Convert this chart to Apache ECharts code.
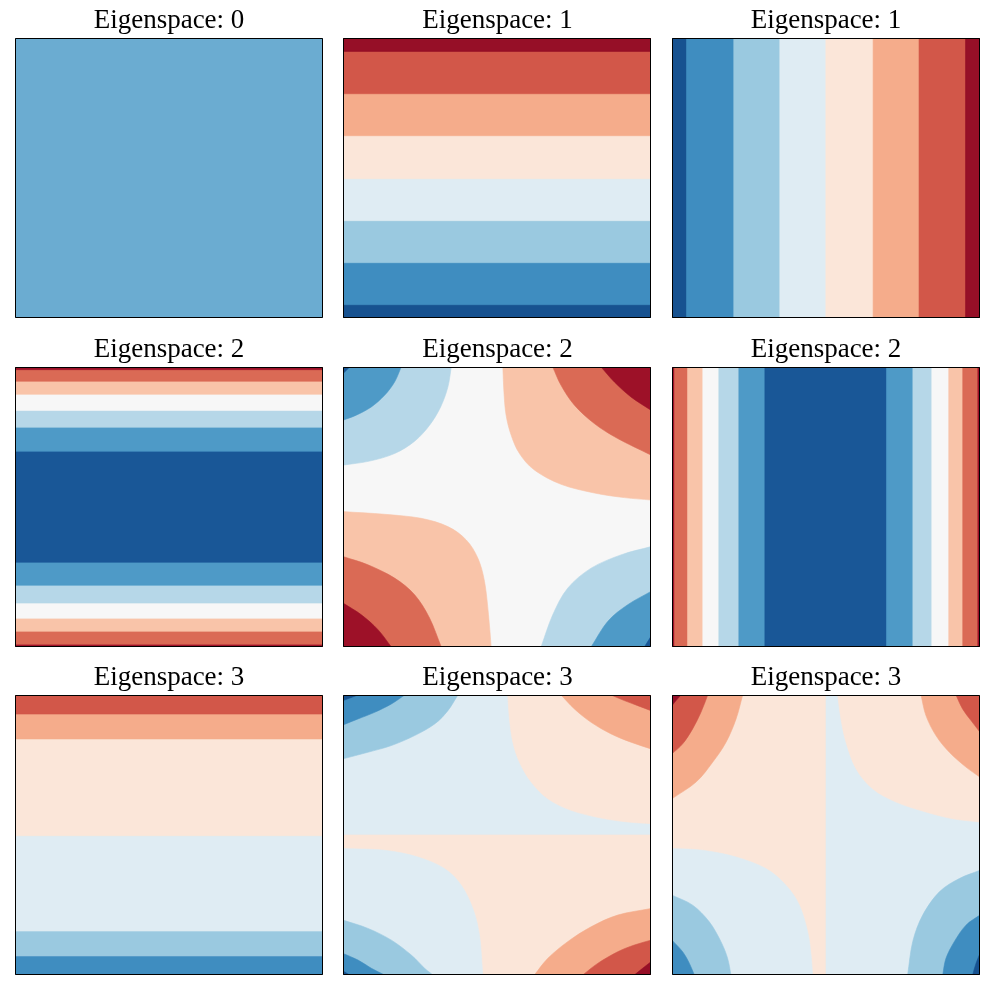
<!DOCTYPE html>
<html><head><meta charset="utf-8">
<script src="https://cdn.jsdelivr.net/npm/echarts@6/dist/echarts.min.js"></script>
<style>html,body{margin:0;padding:0;background:#fff}#c{width:990px;height:990px}</style>
</head><body><div id="c"></div>
<script>
// ---------------- data ----------------
const titles = ['Eigenspace: 0','Eigenspace: 1','Eigenspace: 1',
                'Eigenspace: 2','Eigenspace: 2','Eigenspace: 2',
                'Eigenspace: 3','Eigenspace: 3','Eigenspace: 3'];

// number of filled-contour levels (bands) used by each panel's colormap
const bandCounts = [2, 8, 8, 7, 7, 7, 8, 8, 8];

// panel 1: constant field (single band)
const p1Bounds = [];
const p1Levels = [0];
// panel 2: horizontal bands, boundaries in y (bottom -> top)
const p2Bounds = [-0.905, -0.605, -0.305, -0.005, 0.302, 0.602, 0.904];
const p2Levels = [0, 1, 2, 3, 4, 5, 6, 7];
// panel 3: vertical bands, boundaries in x (left -> right)
const p3Bounds = [-0.906, -0.599, -0.300, -0.001, 0.306, 0.604, 0.906];
const p3Levels = [0, 1, 2, 3, 4, 5, 6, 7];
// panel 4: horizontal bands
const p4Bounds = [-0.981, -0.888, -0.795, -0.686, -0.559, -0.395, 0.398, 0.569, 0.689, 0.805, 0.898, 0.981];
const p4Levels = [6, 5, 4, 3, 2, 1, 0, 1, 2, 3, 4, 5, 6];
// panel 6: vertical bands
const p6Bounds = [-0.984, -0.899, -0.800, -0.696, -0.566, -0.397, 0.393, 0.564, 0.687, 0.797, 0.888, 0.986];
const p6Levels = [6, 5, 4, 3, 2, 1, 0, 1, 2, 3, 4, 5, 6];
// panel 7: horizontal bands
const p7Bounds = [-0.864, -0.686, -0.005, 0.686, 0.864];
const p7Levels = [1, 2, 3, 4, 5, 6];

// panel 5: contour regions (level index, outline: contour points then the enclosed corner)
const p5Levels = [3, 2, 1, 0, 4, 5, 6, 4, 5, 6, 2, 1, 0];
const p5Shapes = [
  [[-1,-1],[1,-1],[1,1],[-1,1]],
  [[-0.297,1],[-0.319,0.857],[-0.366,0.715],[-0.438,0.584],[-0.535,0.470],[-0.665,0.382],[-0.827,0.328],[-1,0.299],[-1,1]],
  [[-0.622,1],[-0.665,0.893],[-0.730,0.798],[-0.816,0.715],[-0.914,0.656],[-1,0.620],[-1,1]],
  [[-0.957,1],[-1,0.952],[-1,1]],
  [[0.038,1],[0.045,0.822],[0.059,0.656],[0.092,0.513],[0.146,0.382],[0.243,0.264],[0.416,0.162],[0.632,0.100],[0.827,0.067],[1,0.050],[1,1]],
  [[0.362,1],[0.416,0.869],[0.503,0.727],[0.632,0.596],[0.784,0.489],[1,0.371],[1,1]],
  [[0.676,1],[0.762,0.893],[0.870,0.786],[1,0.691],[1,1]],
  [[-1,-0.033],[-0.730,-0.052],[-0.492,-0.081],[-0.319,-0.140],[-0.200,-0.235],[-0.124,-0.366],[-0.081,-0.532],[-0.055,-0.770],[-0.038,-1],[-1,-1]],
  [[-1,-0.354],[-0.838,-0.413],[-0.665,-0.508],[-0.535,-0.627],[-0.438,-0.793],[-0.362,-1],[-1,-1]],
  [[-1,-0.686],[-0.881,-0.770],[-0.773,-0.876],[-0.686,-1],[-1,-1]],
  [[1,-0.283],[0.805,-0.342],[0.611,-0.437],[0.459,-0.580],[0.362,-0.770],[0.286,-1],[1,-1]],
  [[1,-0.603],[0.849,-0.698],[0.719,-0.817],[0.611,-1],[1,-1]],
  [[1,-0.924],[0.957,-1],[1,-1]]
];

// panel 8
const p8Levels = [3, 4, 4, 5, 6, 2, 1, 0, 3, 2, 1, 0, 5, 6, 7];
const p8Shapes = [
  [[-1,0],[1,0],[1,1],[-1,1]],
  [[-1,-1],[1,-1],[1,0],[-1,0]],
  [[0.070,1],[0.081,0.829],[0.103,0.663],[0.146,0.520],[0.222,0.378],[0.330,0.259],[0.481,0.176],[0.676,0.121],[0.849,0.093],[1,0.081],[1,1]],
  [[0.416,1],[0.503,0.900],[0.611,0.805],[0.741,0.722],[0.870,0.663],[1,0.615],[1,1]],
  [[0.741,1],[0.827,0.960],[0.914,0.924],[1,0.888],[1,1]],
  [[-0.254,1],[-0.319,0.888],[-0.405,0.793],[-0.535,0.710],[-0.686,0.639],[-0.838,0.591],[-1,0.544],[-1,1]],
  [[-0.600,1],[-0.686,0.936],[-0.795,0.876],[-0.903,0.829],[-1,0.786],[-1,1]],
  [[-0.903,1],[-1,0.960],[-1,1]],
  [[-1,-0.097],[-0.730,-0.109],[-0.514,-0.157],[-0.341,-0.240],[-0.232,-0.359],[-0.157,-0.525],[-0.114,-0.715],[-0.092,-1],[-1,-1]],
  [[-1,-0.608],[-0.838,-0.667],[-0.686,-0.751],[-0.557,-0.857],[-0.470,-0.952],[-0.416,-1],[-1,-1]],
  [[-1,-0.846],[-0.903,-0.893],[-0.816,-0.952],[-0.730,-1],[-1,-1]],
  [[-1,-0.971],[-0.957,-1],[-1,-1]],
  [[0.243,-1],[0.330,-0.881],[0.459,-0.762],[0.611,-0.656],[0.784,-0.572],[1,-0.525],[1,-1]],
  [[0.557,-1],[0.654,-0.917],[0.784,-0.834],[0.892,-0.786],[1,-0.751],[1,-1]],
  [[0.892,-1],[0.946,-0.952],[1,-0.905],[1,-1]]
];

// panel 9
const p9Levels = [4, 3, 4, 5, 6, 5, 6, 7, 3, 2, 1, 2, 1, 0];
const p9Shapes = [
  [[-1,-1],[0,-1],[0,1],[-1,1]],
  [[0,-1],[1,-1],[1,1],[0,1]],
  [[0.076,1],[0.097,0.829],[0.130,0.663],[0.195,0.473],[0.303,0.330],[0.455,0.235],[0.649,0.164],[0.823,0.116],[1,0.093],[1,1]],
  [[0.617,1],[0.649,0.853],[0.714,0.710],[0.801,0.591],[0.909,0.485],[1,0.413],[1,1]],
  [[0.844,1],[0.887,0.900],[0.942,0.817],[1,0.734],[1,1]],
  [[-0.541,1],[-0.584,0.829],[-0.649,0.663],[-0.736,0.520],[-0.844,0.378],[-1,0.259],[-1,1]],
  [[-0.768,1],[-0.812,0.876],[-0.866,0.758],[-0.931,0.651],[-1,0.580],[-1,1]],
  [[-0.942,1],[-0.974,0.960],[-1,0.924],[-1,1]],
  [[-1,-0.097],[-0.801,-0.109],[-0.584,-0.157],[-0.390,-0.240],[-0.260,-0.359],[-0.173,-0.501],[-0.119,-0.691],[-0.097,-0.857],[-0.087,-1],[-1,-1]],
  [[-1,-0.430],[-0.866,-0.501],[-0.758,-0.620],[-0.682,-0.762],[-0.639,-0.881],[-0.617,-1],[-1,-1]],
  [[-1,-0.751],[-0.931,-0.834],[-0.887,-0.917],[-0.855,-1],[-1,-1]],
  [[1,-0.252],[0.866,-0.311],[0.736,-0.406],[0.628,-0.572],[0.563,-0.762],[0.530,-1],[1,-1]],
  [[1,-0.572],[0.909,-0.644],[0.833,-0.762],[0.779,-0.881],[0.758,-1],[1,-1]],
  [[1,-0.846],[0.974,-0.917],[0.952,-1],[1,-1]]
];

// ---------------- styling / layout ----------------
const RDBU = ['#67001f','#b2182b','#d6604d','#f4a582','#fddbc7','#f7f7f7','#d1e5f0','#92c5de','#4393c3','#2166ac','#053061'];
function hex2rgb(h){ return [parseInt(h.substr(1,2),16), parseInt(h.substr(3,2),16), parseInt(h.substr(5,2),16)]; }
function rdbuR(t){ // reversed RdBu: 0 -> blue, 1 -> red
  const s = (1 - t) * 10; const i = Math.min(9, Math.floor(s)); const f = s - i;
  const a = hex2rgb(RDBU[i]), b = hex2rgb(RDBU[i + 1]);
  return 'rgb(' + a.map((v, k) => Math.round(v + (b[k] - v) * f)).join(',') + ')';
}
function levelColor(n, idx){ return rdbuR((idx + 0.5) / n); }

const colLeft = [15, 343, 672], rowTop = [38, 367, 695], panelW = 308, panelH = 280;
const colCenter = [169, 497.5, 826], titleY = [21, 350, 678];

function bandLayers(bounds, levels, n, vertical){
  return levels.map((lv, i) => {
    const lo = i === 0 ? -1 : bounds[i - 1];
    const pts = vertical ? [[lo,-1],[1,-1],[1,1],[lo,1]] : [[-1,lo],[1,lo],[1,1],[-1,1]];
    return {c: levelColor(n, lv), pts: pts, curve: false};
  });
}
function isRect(pts){ return pts.length === 4 && pts.every(p => p.every(v => v === 0 || Math.abs(v) === 1)); }
function shapeLayers(shapes, levels, n){
  return shapes.map((pts, i) => ({c: levelColor(n, levels[i]), pts: pts, curve: !isRect(pts)}));
}

// smooth outline through the contour points (Catmull-Rom), closed via the corner point
function smoothPath(px){
  const curve = px.slice(0, -1), corner = px[px.length - 1];
  const n = curve.length;
  const P = i => i < 0 ? [2 * curve[0][0] - curve[1][0], 2 * curve[0][1] - curve[1][1]]
                : i >= n ? [2 * curve[n - 1][0] - curve[n - 2][0], 2 * curve[n - 1][1] - curve[n - 2][1]]
                : curve[i];
  let d = 'M' + curve[0][0].toFixed(2) + ' ' + curve[0][1].toFixed(2);
  for (let i = 0; i < n - 1; i++) {
    const p0 = P(i - 1), p1 = P(i), p2 = P(i + 1), p3 = P(i + 2);
    const c1 = [p1[0] + (p2[0] - p0[0]) / 6, p1[1] + (p2[1] - p0[1]) / 6];
    const c2 = [p2[0] - (p3[0] - p1[0]) / 6, p2[1] - (p3[1] - p1[1]) / 6];
    d += 'C' + c1.map(v => v.toFixed(2)).join(' ') + ' ' + c2.map(v => v.toFixed(2)).join(' ') + ' ' + p2.map(v => v.toFixed(2)).join(' ');
  }
  d += 'L' + corner[0].toFixed(2) + ' ' + corner[1].toFixed(2) + 'Z';
  return d;
}

const panels = [
  bandLayers(p1Bounds, p1Levels, bandCounts[0], false),
  bandLayers(p2Bounds, p2Levels, bandCounts[1], false),
  bandLayers(p3Bounds, p3Levels, bandCounts[2], true),
  bandLayers(p4Bounds, p4Levels, bandCounts[3], false),
  shapeLayers(p5Shapes, p5Levels, bandCounts[4]),
  bandLayers(p6Bounds, p6Levels, bandCounts[5], true),
  bandLayers(p7Bounds, p7Levels, bandCounts[6], false),
  shapeLayers(p8Shapes, p8Levels, bandCounts[7]),
  shapeLayers(p9Shapes, p9Levels, bandCounts[8])
];

const grid = [], xAxis = [], yAxis = [], series = [], graphic = [];
panels.forEach((layers, pi) => {
  const r = Math.floor(pi / 3), c = pi % 3;
  grid.push({left: colLeft[c], top: rowTop[r], width: panelW, height: panelH, containLabel: false});
  xAxis.push({type: 'value', gridIndex: pi, min: -1, max: 1, show: false});
  yAxis.push({type: 'value', gridIndex: pi, min: -1, max: 1, show: false});
  series.push({
    type: 'custom', coordinateSystem: 'cartesian2d', xAxisIndex: pi, yAxisIndex: pi,
    clip: true, silent: true, z: 2,
    data: layers.map(() => [0, 0]),
    renderItem: function(params, api){
      const l = layers[params.dataIndex];
      const px = l.pts.map(p => api.coord(p));
      const style = {fill: l.c, stroke: l.c, lineWidth: 0.6};
      if (l.curve) return {type: 'path', shape: {pathData: smoothPath(px)}, style: style};
      return {type: 'polygon', shape: {points: px}, style: style};
    }
  });
  series.push({
    type: 'custom', coordinateSystem: 'cartesian2d', xAxisIndex: pi, yAxisIndex: pi,
    clip: false, silent: true, z: 5, data: [[0, 0]],
    renderItem: function(params, api){
      const a = api.coord([-1, 1]), b = api.coord([1, -1]);
      const x0 = Math.round(a[0]) + 0.5, y0 = Math.round(a[1]) + 0.5;
      const x1 = Math.round(b[0]) - 0.5, y1 = Math.round(b[1]) - 0.5;
      return {type: 'rect', shape: {x: x0, y: y0, width: x1 - x0, height: y1 - y0},
              style: {fill: 'none', stroke: '#000', lineWidth: 1}};
    }
  });
  graphic.push({type: 'text', x: colCenter[c], y: titleY[r], silent: true,
    style: {text: titles[pi], fill: '#000', font: '27px "Liberation Serif"', textAlign: 'center', textVerticalAlign: 'middle'}});
});

const chart = echarts.init(document.getElementById('c'), null, {renderer: 'canvas'});
chart.setOption({animation: false, backgroundColor: '#fff', grid, xAxis, yAxis, series, graphic});
</script>
</body></html>
